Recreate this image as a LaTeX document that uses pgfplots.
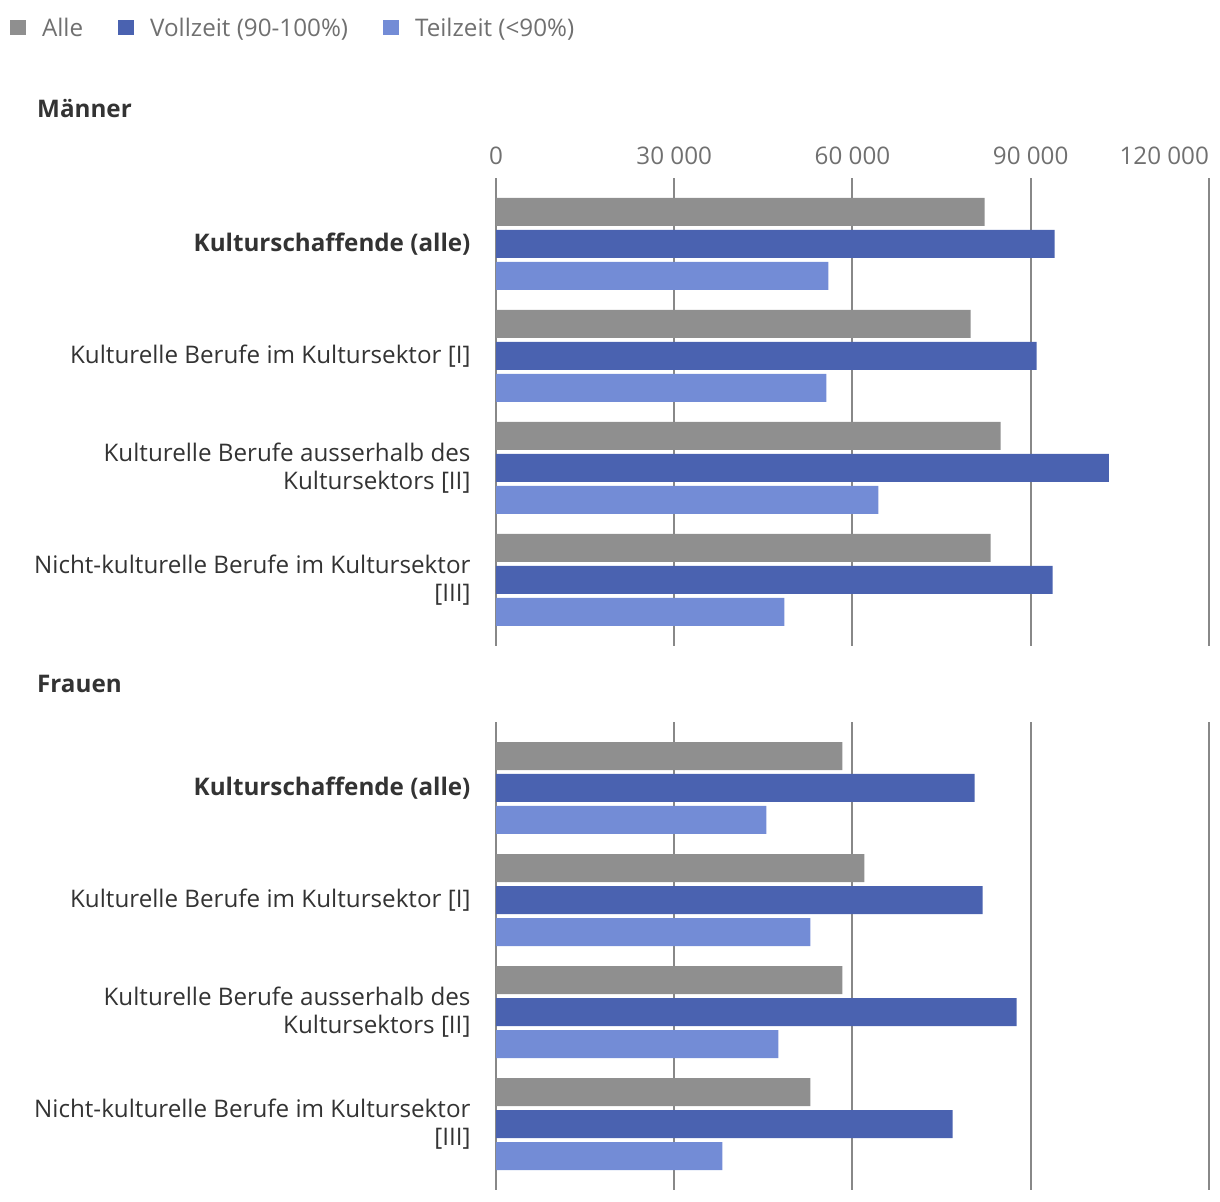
\documentclass[border=0pt]{standalone}
\usepackage{fontspec}
\setmainfont{Open Sans}
\usepackage{pgfplots}
\pgfplotsset{compat=1.18}
\definecolor{cAlle}{RGB}{143,143,143}
\definecolor{cVoll}{RGB}{74,98,176}
\definecolor{cTeil}{RGB}{115,140,214}
\definecolor{cGrid}{RGB}{136,136,136}
\definecolor{cText}{RGB}{51,51,51}
\definecolor{cTick}{RGB}{112,112,112}
\newcommand\lf{\fontsize{24.3}{28}\selectfont}
\pgfplotsset{
  panel/.style={
    xbar, scale only axis, width=712.9bp, height=467.4bp,
    xmin=0, xmax=120000, ymin=-0.5866, ymax=3.5866, y dir=reverse,
    scaled x ticks=false,
    axis line style={draw=none}, major tick length=0pt,
    xmajorgrids, grid style={cGrid, line width=2bp},
    xtick={0,30000,60000,90000,120000},
    ytick={0,1,2,3},
    yticklabels={\textbf{Kulturschaffende (alle)}, Kulturelle Berufe im Kultursektor [I], {Kulturelle Berufe ausserhalb des\\Kultursektors [II]}, {Nicht-kulturelle Berufe im Kultursektor\\{}[III]}},
    yticklabel style={align=right, font=\lf, text=cText, xshift=-22bp},
    xticklabel style={font=\lf, text=cTick},
    bar width=0.25,
  },
  sq/.style={legend image code/.code={\fill[##1] (0bp,-7.5bp) rectangle (16bp,7.5bp);}},
}
\begin{document}
\begin{tikzpicture}
\path[use as bounding box] (0,0) rectangle (1220bp,1202bp);
\node[anchor=west, inner sep=0pt, font=\lf\bfseries, text=cText] at (37bp,1093bp) {Männer};
\node[anchor=west, inner sep=0pt, font=\lf\bfseries, text=cText] at (37bp,518bp) {Frauen};
\begin{axis}[panel, at={(496bp,556.3bp)}, anchor=south west,
  xticklabel pos=upper,
  xticklabel style={yshift=10bp},
  xticklabels={0,30 000,60 000,90 000,{\makebox[0pt][r]{120 000}}},
  legend style={at={(-0.6817,1.3216)}, anchor=west, draw=none, fill=none,
    inner sep=0pt, outer sep=0pt, legend columns=3, font=\lf, text=cTick,
    nodes={inner sep=0pt},
    /tikz/every odd column/.append style={column sep=16bp},
    /tikz/every even column/.append style={column sep=35bp}},
]
\addplot[fill=cAlle, draw=none, bar shift=-0.2857, sq] coordinates {(82250,0) (79890,1) (84940,2) (83260,3)};
\addplot[fill=cVoll, draw=none, bar shift=0, sq] coordinates {(94040,0) (91010,1) (103150,2) (93710,3)};
\addplot[fill=cTeil, draw=none, bar shift=0.2857, sq] coordinates {(55960,0) (55620,1) (64380,2) (48540,3)};
\legend{Alle, Vollzeit (90-100\%), Teilzeit (<90\%)}
\end{axis}
\begin{axis}[panel, at={(496bp,12.3bp)}, anchor=south west,
  xticklabels={}]
\addplot[fill=cAlle, draw=none, bar shift=-0.2857] coordinates {(58310,0) (62020,1) (58310,2) (52920,3)};
\addplot[fill=cVoll, draw=none, bar shift=0] coordinates {(80560,0) (81910,1) (87640,2) (76850,3)};
\addplot[fill=cTeil, draw=none, bar shift=0.2857] coordinates {(45510,0) (52920,1) (47530,2) (38090,3)};
\end{axis}
\end{tikzpicture}
\end{document}
